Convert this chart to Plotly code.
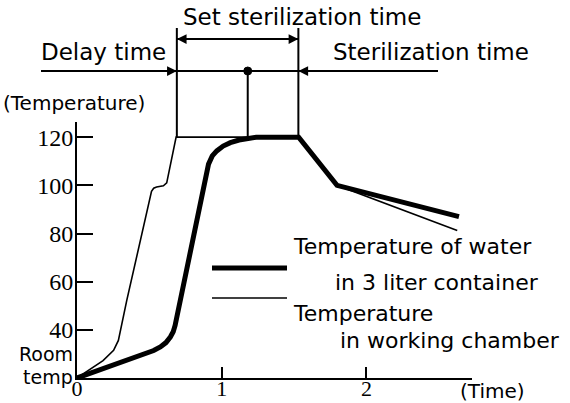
import plotly.graph_objects as go

# Temperature profiles over time (hours, degrees C)
water_time = [0, 0.25, 0.436, 0.53, 0.576, 0.615, 0.645, 0.665, 0.678, 0.713, 0.805, 0.909,
              0.935, 0.966, 1.01, 1.06, 1.12, 1.174, 1.24, 1.532, 1.797, 2.64]
water_temp = [20, 25.3, 28.9, 31.4, 32.9, 34.7, 37.0, 39.2, 41.8, 52.2, 78.3, 108.8,
              112.2, 114.3, 116.3, 117.7, 118.8, 119.5, 120, 120, 100, 87]

chamber_time = [0, 0.18, 0.253, 0.286, 0.344, 0.515, 0.53, 0.55, 0.597, 0.62, 0.685,
                1.532, 1.797, 2.628]
chamber_temp = [20, 27.2, 31.5, 35.6, 52.2, 97.5, 98.8, 99.3, 99.8, 101, 120,
                120, 100, 81.2]

# Phase boundaries
delay_end = 0.69
ster_mid = 1.18
ster_end = 1.53
plateau = 120

x_ticks = [0, 1, 2]
y_ticks = [40, 60, 80, 100, 120]

W, H = 570, 403
ML, MR, MT, MB = 77, 98, 122, 25
X_MAX = 2.73
Y_MIN, Y_MAX = 20, 126.3

PW = W - ML - MR
PH = H - MT - MB


def px(p):
    return (p - ML) / PW


def py(p):
    return (H - MB - p) / PH


plateau_paper = (plateau - Y_MIN) / (Y_MAX - Y_MIN)
SANS = "DejaVu Sans"
SERIF = "Liberation Serif"

fig = go.Figure()
fig.add_trace(go.Scatter(x=chamber_time, y=chamber_temp, mode="lines",
                         line=dict(color="black", width=1.6), hoverinfo="skip"))
fig.add_trace(go.Scatter(x=water_time, y=water_temp, mode="lines",
                         line=dict(color="black", width=5), hoverinfo="skip"))

shapes = []
line = dict(color="black", width=2)
for xv in (delay_end, ster_end):
    shapes.append(dict(type="line", xref="x", yref="paper", x0=xv, x1=xv,
                       y0=py(28), y1=plateau_paper, line=line))
shapes.append(dict(type="line", xref="x", yref="paper", x0=ster_mid, x1=ster_mid,
                   y0=py(71), y1=plateau_paper, line=line))
shapes.append(dict(type="line", xref="x", yref="paper", x0=delay_end, x1=ster_end,
                   y0=py(39), y1=py(39), line=line))
shapes.append(dict(type="line", xref="paper", yref="paper", x0=px(41), x1=px(438),
                   y0=py(71), y1=py(71), line=line))
# Midpoint marker of the set sterilization time
shapes.append(dict(type="circle", xref="x", yref="paper", xsizemode="pixel", ysizemode="pixel",
                   xanchor=ster_mid, yanchor=py(71), x0=-4, x1=4, y0=-4, y1=4,
                   fillcolor="black", line=dict(color="black", width=1)))
# Legend swatches
shapes.append(dict(type="line", xref="paper", yref="paper", x0=px(212), x1=px(287),
                   y0=py(268), y1=py(268), line=dict(color="black", width=5)))
shapes.append(dict(type="line", xref="paper", yref="paper", x0=px(212), x1=px(287),
                   y0=py(298), y1=py(298), line=dict(color="black", width=1.6)))

ann = []


def arrow(xv, yp, ax):
    ann.append(dict(x=xv, y=yp, xref="x", yref="paper", ax=ax, ay=0, text="",
                    showarrow=True, arrowhead=2, arrowsize=1.3, arrowwidth=1.5,
                    arrowcolor="black", standoff=0))


arrow(delay_end, py(71), -16)
arrow(ster_end, py(71), 16)
arrow(delay_end, py(39), 16)
arrow(ster_end, py(39), -16)


def label(text, x, y, size, xanchor="left"):
    ann.append(dict(text=text, x=px(x), y=py(y), xref="paper", yref="paper",
                    xanchor=xanchor, yanchor="middle", showarrow=False,
                    font=dict(family=SANS, size=size, color="black")))


label("Set sterilization time", 181, 17, 23)
label("Delay time", 39, 52, 23)
label("Sterilization time", 331, 52, 23)
label("(Temperature)", 1, 103, 20)
label("Room", 75, 354, 19, "right")
label("temp", 75, 377, 19, "right")
label("Temperature of water", 291, 246, 22)
label("in 3 liter container", 333, 282, 22)
label("Temperature", 291, 313, 22)
label("in working chamber", 338, 340, 22)
label("(Time)", 458, 391, 20)

fig.update_layout(
    width=W, height=H, margin=dict(l=ML, r=MR, t=MT, b=MB, pad=0, autoexpand=False),
    paper_bgcolor="white", plot_bgcolor="white", showlegend=False,
    shapes=shapes, annotations=ann,
    xaxis=dict(range=[0, X_MAX], tickvals=x_ticks, ticktext=[str(v) for v in x_ticks],
               showline=True, linecolor="black", linewidth=2, showgrid=False, zeroline=False,
               ticks="inside", ticklen=11, tickwidth=2, tickcolor="black", automargin=False,
               ticklabelstandoff=-10,
               tickfont=dict(family=SERIF, size=22, color="black"), fixedrange=True),
    yaxis=dict(range=[Y_MIN, Y_MAX], tickvals=y_ticks, ticktext=[str(v) for v in y_ticks],
               showline=True, linecolor="black", linewidth=2, showgrid=False, zeroline=False,
               ticks="inside", ticklen=16, tickwidth=2, tickcolor="black", automargin=False,
               ticklabelstandoff=-3,
               tickfont=dict(family=SERIF, size=24, color="black"), fixedrange=True),
)

fig.write_html("out.html")
